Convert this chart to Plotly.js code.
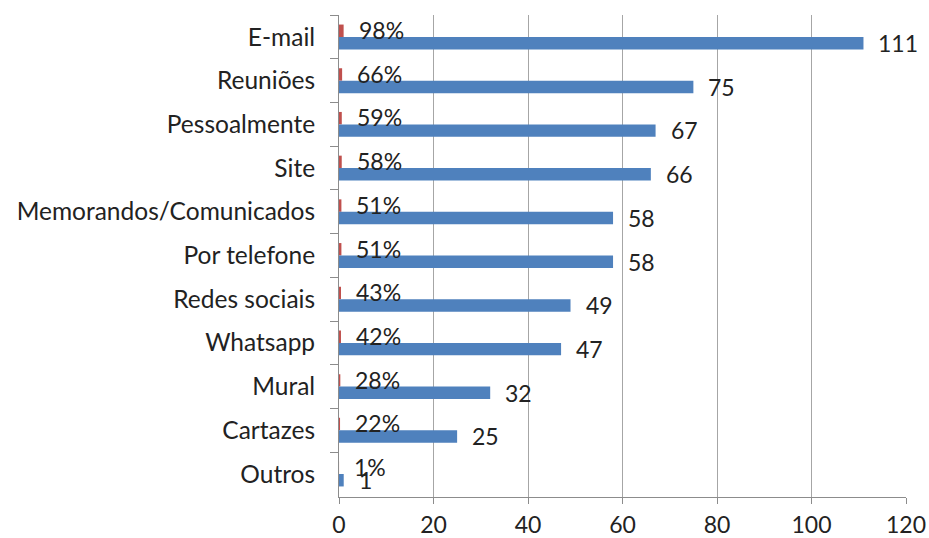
<!DOCTYPE html>
<html>
<head>
<meta charset="utf-8">
<script src="https://cdn.plot.ly/plotly-3.0.1.min.js"></script>
<style>html,body{margin:0;padding:0;background:#fff;}#chart{width:929px;height:538px;}</style>
</head>
<body>
<div id="chart"></div>
<script>
var categories = ["E-mail", "Reuniões", "Pessoalmente", "Site", "Memorandos/Comunicados", "Por telefone", "Redes sociais", "Whatsapp", "Mural", "Cartazes", "Outros"];
var counts = [111, 75, 67, 66, 58, 58, 49, 47, 32, 25, 1];
var percents = [0.98, 0.66, 0.59, 0.58, 0.51, 0.51, 0.43, 0.42, 0.28, 0.22, 0.01];
var percentLabels = ["98%", "66%", "59%", "58%", "51%", "51%", "43%", "42%", "28%", "22%", "1%"];

var FONT = "Lato, 'Open Sans', sans-serif";
var BLUE = "#4F81BD";
var RED = "#C0504D";

var traces = [
  {type: "bar", orientation: "h", y: categories, x: percents, marker: {color: RED}, hoverinfo: "none", name: "%"},
  {type: "bar", orientation: "h", y: categories, x: counts, marker: {color: BLUE}, hoverinfo: "none", name: "n"}
];

var annotations = [];
categories.forEach(function (c, i) {
  annotations.push({x: percents[i], y: c, xref: "x", yref: "y", text: percentLabels[i], showarrow: false,
    xanchor: "left", yanchor: "middle", xshift: 13, yshift: 7, font: {family: FONT, size: 23, color: "#222"}});
  annotations.push({x: counts[i], y: c, xref: "x", yref: "y", text: String(counts[i]), showarrow: false,
    xanchor: "left", yanchor: "middle", xshift: 13, yshift: -6, font: {family: FONT, size: 23, color: "#222"}});
});

var layout = {
  width: 929, height: 538,
  margin: {l: 339, r: 23, t: 15, b: 41},
  paper_bgcolor: "#fff", plot_bgcolor: "#fff",
  showlegend: false,
  barmode: "group", bargap: 0.43, bargroupgap: 0,
  font: {family: FONT, size: 23, color: "#222"},
  xaxis: {range: [0, 120], dtick: 20, tick0: 0, showgrid: true, gridcolor: "#a6a6a6", gridwidth: 1,
    zeroline: false, showline: true, linecolor: "#8c8c8c", linewidth: 1, ticks: "outside", ticklen: 6,
    tickcolor: "#8c8c8c", ticklabelstandoff: 1, tickfont: {family: FONT, size: 23, color: "#222"}, fixedrange: true},
  yaxis: {type: "category", categoryorder: "array", categoryarray: categories, autorange: "reversed",
    showgrid: false, zeroline: false, showline: true, linecolor: "#8c8c8c", linewidth: 1,
    ticks: "outside", tickson: "boundaries", ticklen: 8, tickcolor: "#8c8c8c", ticklabelstandoff: 18,
    tickfont: {family: FONT, size: 24.5, color: "#222"}, fixedrange: true},
  annotations: annotations
};

Plotly.newPlot("chart", traces, layout, {displayModeBar: false, staticPlot: true});
</script>
</body>
</html>
